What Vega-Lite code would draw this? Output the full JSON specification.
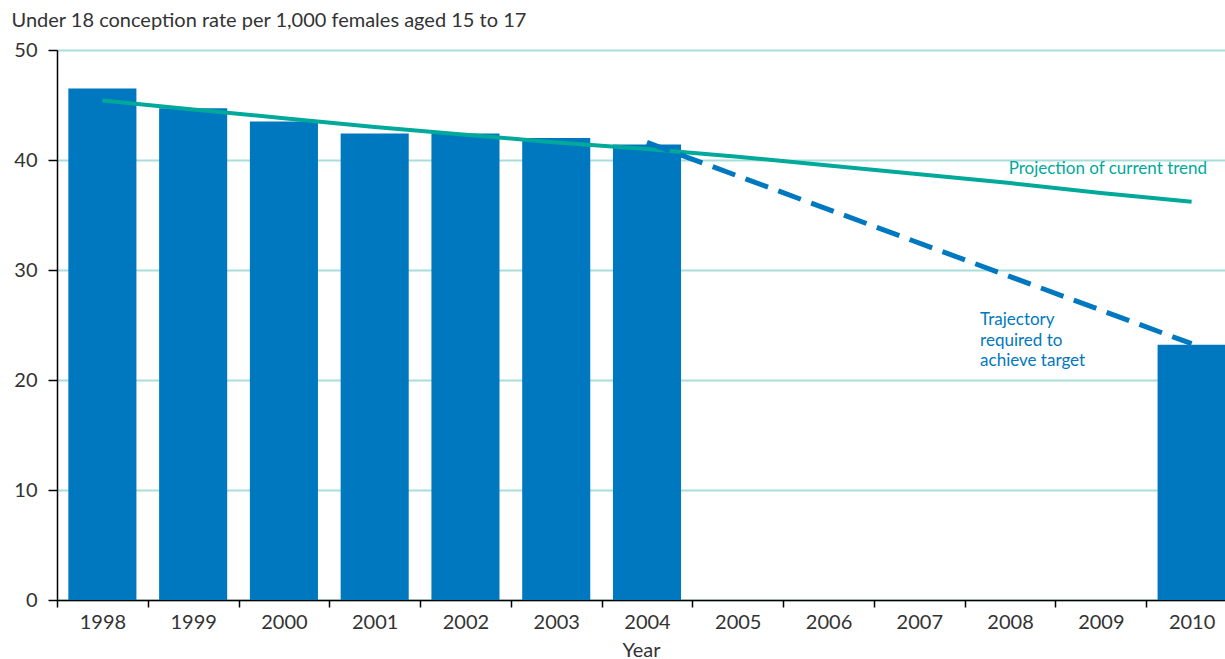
{
  "$schema": "https://vega.github.io/schema/vega-lite/v6.json",
  "autosize": "none",
  "width": 1180,
  "height": 550,
  "padding": {"left": 57, "top": 50, "right": 0, "bottom": 59},
  "background": "white",
  "config": {
    "view": {"stroke": null},
    "font": "Lato",
    "axis": {"labelFont": "Lato", "titleFont": "Lato", "labelColor": "#333333", "titleColor": "#333333", "labelFontSize": 20, "titleFontSize": 20, "titleFontWeight": "normal"}
  },
  "datasets": {
    "bars": [
      {"year": "1998", "rate": 46.5},
      {"year": "1999", "rate": 44.7},
      {"year": "2000", "rate": 43.5},
      {"year": "2001", "rate": 42.4},
      {"year": "2002", "rate": 42.4},
      {"year": "2003", "rate": 42.0},
      {"year": "2004", "rate": 41.4},
      {"year": "2010", "rate": 23.2}
    ],
    "trend": [
      {"year": "1998", "value": 45.4},
      {"year": "1999", "value": 44.6},
      {"year": "2000", "value": 43.8},
      {"year": "2001", "value": 43.0},
      {"year": "2002", "value": 42.3},
      {"year": "2003", "value": 41.6},
      {"year": "2004", "value": 41.0},
      {"year": "2005", "value": 40.3},
      {"year": "2006", "value": 39.5},
      {"year": "2007", "value": 38.7},
      {"year": "2008", "value": 37.9},
      {"year": "2009", "value": 37.0},
      {"year": "2010", "value": 36.2}
    ],
    "target": [
      {"year": "2004", "value": 41.6},
      {"year": "2010", "value": 23.3}
    ],
    "labels": [
      {"year": "2009", "value": 39.2, "text": "Projection of current trend", "kind": "trend"},
      {"year": "2008", "value": 25.45, "text": "Trajectory\nrequired to\nachieve target", "kind": "target"}
    ]
  },
  "encoding": {
    "x": {
      "field": "year",
      "type": "ordinal",
      "scale": {"domain": ["1998","1999","2000","2001","2002","2003","2004","2005","2006","2007","2008","2009","2010"], "paddingInner": 0, "paddingOuter": 0},
      "axis": {
        "title": "Year",
        "labelAngle": 0,
        "tickBand": "extent",
        "tickSize": 7,
        "tickColor": "#000000",
        "tickWidth": 1.5,
        "domainColor": "#000000",
        "domainWidth": 1.5,
        "labelPadding": 5,
        "titlePadding": 8,
        "titleX": 584,
        "grid": false
      }
    }
  },
  "layer": [
    {
      "data": {"name": "bars"},
      "mark": {"type": "bar", "color": "#0078C0", "width": {"band": 0.75}},
      "encoding": {
        "y": {
          "field": "rate",
          "type": "quantitative",
          "scale": {"domain": [0, 50]},
          "axis": {
            "title": "Under 18 conception rate per 1,000 females aged 15 to 17",
            "titleAngle": 0,
            "titleAlign": "left",
            "titleBaseline": "middle",
            "titleX": -46,
            "titleY": -30,
            "values": [0, 10, 20, 30, 40, 50],
            "tickSize": 9,
            "tickColor": "#000000",
            "tickWidth": 1.5,
            "domainColor": "#000000",
            "domainWidth": 1.5,
            "labelPadding": 11,
            "grid": true,
            "gridColor": "#A9DED8",
            "gridWidth": 2
          }
        }
      }
    },
    {
      "data": {"name": "trend"},
      "mark": {"type": "line", "color": "#00A99A", "strokeWidth": 4},
      "encoding": {
        "y": {"field": "value", "type": "quantitative"}
      }
    },
    {
      "data": {"name": "target"},
      "mark": {"type": "line", "color": "#0078C0", "strokeWidth": 5, "strokeDash": [24, 11]},
      "encoding": {
        "y": {"field": "value", "type": "quantitative"}
      }
    },
    {
      "data": {"name": "labels"},
      "transform": [{"filter": "datum.kind == 'trend'"}],
      "mark": {"type": "text", "color": "#00A99A", "fontSize": 17, "align": "center", "baseline": "middle", "dx": 7},
      "encoding": {
        "y": {"field": "value", "type": "quantitative"},
        "text": {"field": "text"}
      }
    },
    {
      "data": {"name": "labels"},
      "transform": [{"filter": "datum.kind == 'target'"}],
      "mark": {"type": "text", "color": "#0078C0", "fontSize": 17, "align": "left", "baseline": "middle", "dx": -30, "lineBreak": "\n", "lineHeight": 20.5},
      "encoding": {
        "y": {"field": "value", "type": "quantitative"},
        "text": {"field": "text"}
      }
    }
  ]
}
